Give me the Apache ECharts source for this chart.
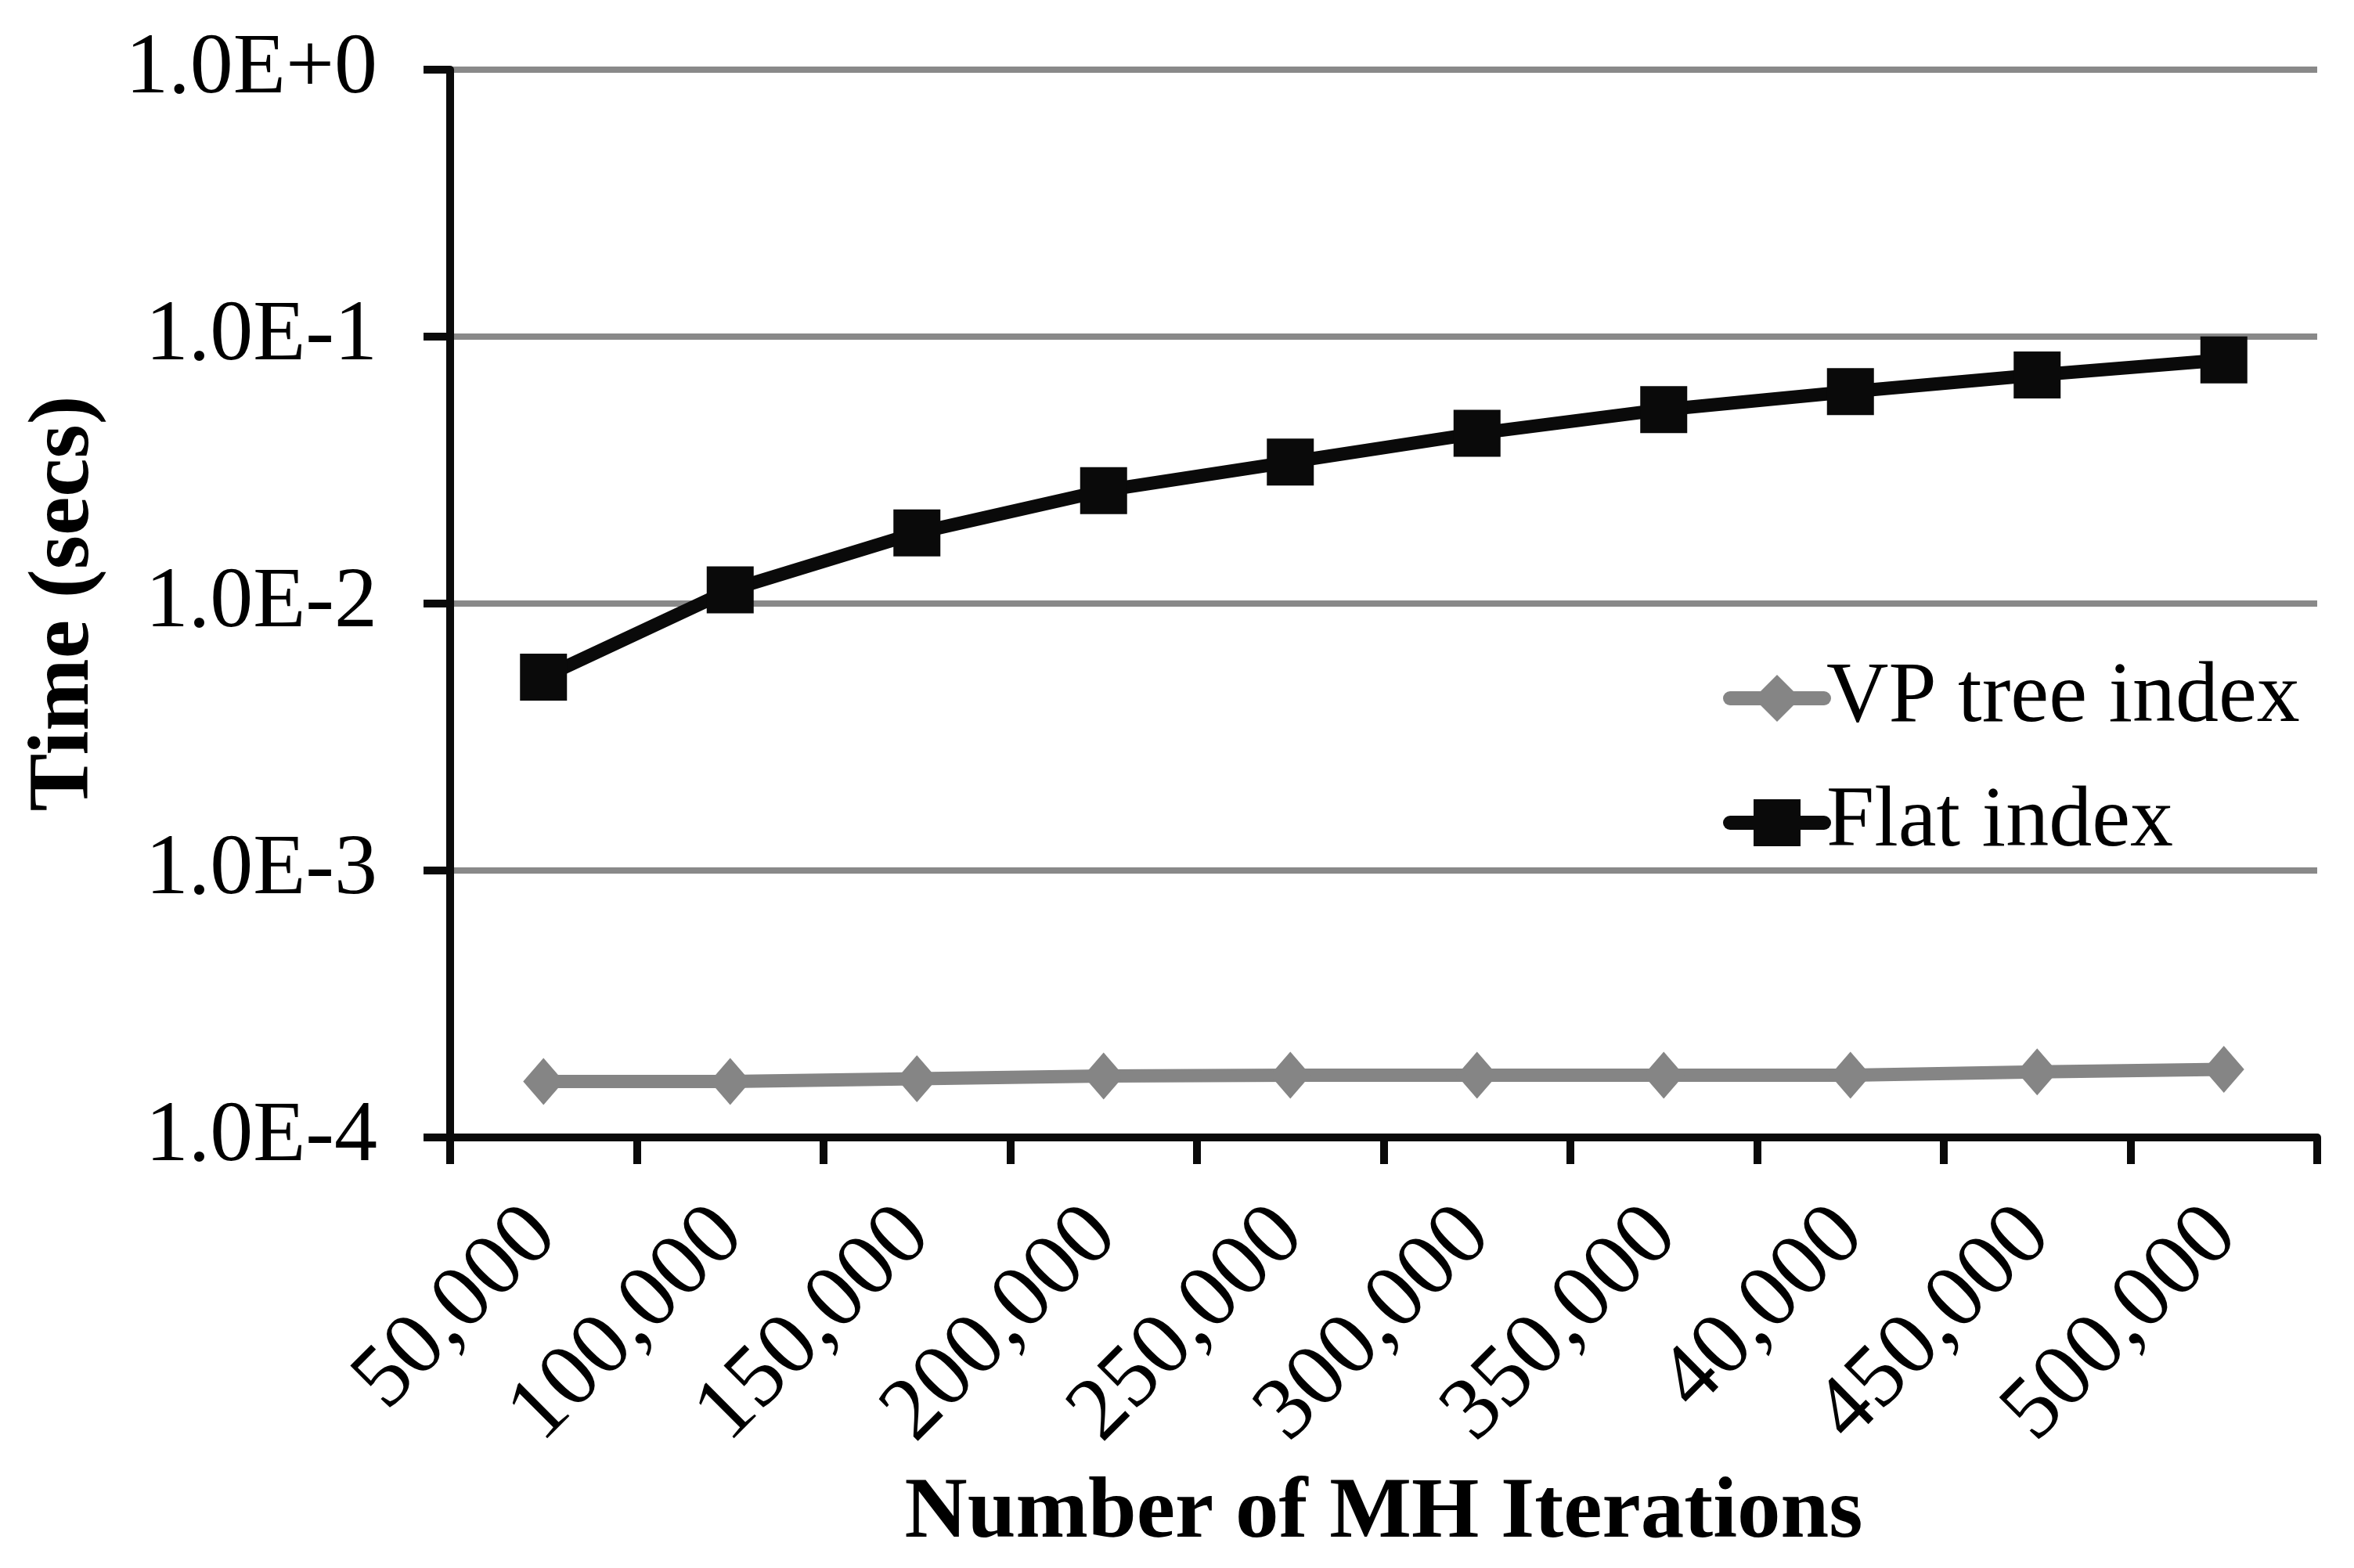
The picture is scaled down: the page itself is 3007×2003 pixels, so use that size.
<!DOCTYPE html>
<html>
<head>
<meta charset="utf-8">
<script src="https://cdn.jsdelivr.net/npm/echarts@6/dist/echarts.min.js"></script>
<style>
html,body{margin:0;padding:0;background:#fff;}
#chart{width:3007px;height:2003px;}
</style>
</head>
<body>
<div id="chart"></div>
<script>
const categories = ["50,000","100,000","150,000","200,000","250,000","300,000","350,000","40,000","450,000","500,000"];
const vpTree = [1.62e-4, 1.62e-4, 1.66e-4, 1.70e-4, 1.71e-4, 1.71e-4, 1.71e-4, 1.71e-4, 1.76e-4, 1.80e-4];
const flatIndex = [0.0053, 0.01125, 0.0184, 0.0265, 0.0339, 0.0434, 0.0533, 0.0622, 0.0718, 0.0818];
const yMin = 1e-4, yMax = 1;
const seriesNames = ["VP tree index", "Flat index"];

const FONT = '"Liberation Serif", "Times New Roman", serif';
const chart = echarts.init(document.getElementById('chart'), null, {renderer: 'canvas'});

function sci(v) {
  const e = Math.round(Math.log10(v));
  return '1.0E' + (e >= 0 ? '+' : '') + e;
}

chart.setOption({
  backgroundColor: '#ffffff',
  animation: false,
  grid: {left: 575, right: 47, top: 89, bottom: 550, containLabel: false},
  legend: {
    orient: 'vertical',
    left: 2196,
    top: 832,
    itemWidth: 120,
    itemHeight: 75,
    itemGap: 49,
    lineStyle: {width: 18, cap: 'round'},
    textStyle: {fontFamily: FONT, fontSize: 110, color: '#000', padding: [0,0,0,-2]},
    data: seriesNames
  },
  xAxis: {
    type: 'category',
    data: categories,
    boundaryGap: true,
    name: 'Number of MH Iterations',
    nameLocation: 'middle',
    nameGap: 426,
    nameTextStyle: {fontFamily: FONT, fontSize: 111, fontWeight: 'bold', color: '#000'},
    axisLine: {lineStyle: {color: '#0a0a0a', width: 10, cap: 'round'}},
    axisTick: {show: true, length: 34, lineStyle: {color: '#0a0a0a', width: 10}, alignWithLabel: false},
    axisLabel: {
      rotate: 45, margin: 108, interval: 0,
      fontFamily: FONT, fontSize: 114, color: '#000'
    },
    splitLine: {show: false}
  },
  yAxis: {
    type: 'log',
    logBase: 10,
    min: yMin,
    max: yMax,
    name: 'Time (secs)',
    nameLocation: 'middle',
    nameGap: 436,
    nameTextStyle: {fontFamily: FONT, fontSize: 111, fontWeight: 'bold', color: '#000'},
    axisLine: {show: true, lineStyle: {color: '#0a0a0a', width: 10, cap: 'round'}},
    axisTick: {show: true, length: 34, lineStyle: {color: '#0a0a0a', width: 10}},
    axisLabel: {margin: 93, fontFamily: FONT, fontSize: 110, color: '#000', formatter: sci},
    splitLine: {show: true, lineStyle: {color: '#898989', width: 8}}
  },
  series: [
    {
      name: seriesNames[0],
      type: 'line',
      data: vpTree,
      symbol: 'diamond',
      symbolSize: [52, 60],
      itemStyle: {color: '#858585'},
      lineStyle: {color: '#858585', width: 17},
      z: 3
    },
    {
      name: seriesNames[1],
      type: 'line',
      data: flatIndex,
      symbol: 'rect',
      symbolSize: 60,
      itemStyle: {color: '#0a0a0a'},
      lineStyle: {color: '#0a0a0a', width: 17},
      z: 4
    }
  ]
});
</script>
</body>
</html>
